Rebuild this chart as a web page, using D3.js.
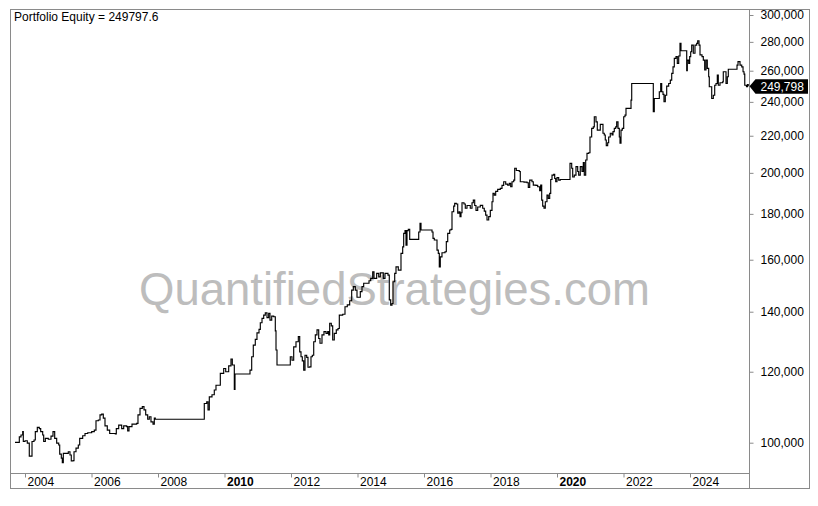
<!DOCTYPE html>
<html><head><meta charset="utf-8">
<script src="https://cdn.jsdelivr.net/npm/d3@7"></script>
<style>
body{margin:0;background:#fff}
svg{display:block}
text{font-family:Arial,"Liberation Sans",sans-serif}
</style>
</head><body><svg id="c" width="818" height="506"></svg>
<script>
const title = "Portfolio Equity = 249797.6";
const lastValue = 249797.6;
const watermark = "QuantifiedStrategies.com";
const xTickYears = [2004,2006,2008,2010,2012,2014,2016,2018,2020,2022,2024];
const boldYears = [2010,2020];
const yTickValues = [100000,120000,140000,160000,180000,200000,220000,240000,260000,280000,300000];

// decimal years
const dates = [
2003.699,2003.829,2003.880,2003.931,2003.949,2004.000,2004.069,2004.129,2004.189,2004.211,
2004.271,2004.310,2004.370,2004.430,2004.472,2004.532,2004.562,2004.611,2004.701,2004.782,
2004.842,2004.893,2004.953,2005.014,2005.044,2005.092,2005.122,2005.152,2005.233,2005.302,
2005.353,2005.392,2005.444,2005.474,2005.534,2005.603,2005.645,2005.735,2005.805,2005.886,
2006.006,2006.084,2006.135,2006.205,2006.256,2006.307,2006.355,2006.406,2006.475,2006.547,
2006.656,2006.716,2006.746,2006.818,2006.908,2006.968,2007.058,2007.088,2007.128,2007.218,
2007.359,2007.398,2007.459,2007.528,2007.579,2007.630,2007.690,2007.738,2007.789,2007.850,
2007.889,2007.919,2009.362,2009.392,2009.465,2009.504,2009.543,2009.624,2009.693,2009.744,
2009.825,2009.874,2009.925,2009.976,2010.036,2010.126,2010.195,2010.235,2010.277,2010.295,
2010.316,2010.716,2010.767,2010.818,2010.866,2010.926,2010.977,2011.038,2011.077,2011.128,
2011.179,2011.227,2011.278,2011.329,2011.368,2011.420,2011.480,2011.528,2011.549,2011.579,
2011.949,2011.979,2012.030,2012.081,2012.150,2012.220,2012.262,2012.301,2012.340,2012.382,
2012.421,2012.472,2012.511,2012.562,2012.601,2012.641,2012.683,2012.731,2012.782,2012.833,
2012.872,2012.932,2012.992,2013.053,2013.104,2013.134,2013.164,2013.212,2013.254,2013.302,
2013.362,2013.414,2013.453,2013.555,2013.624,2013.693,2013.765,2013.825,2013.874,2013.934,
2013.985,2014.036,2014.084,2014.135,2014.186,2014.276,2014.346,2014.397,2014.457,2014.496,
2014.577,2014.638,2014.686,2014.776,2014.827,2014.917,2014.956,2014.998,2015.038,2015.068,
2015.119,2015.158,2015.227,2015.308,2015.359,2015.389,2015.429,2015.459,2015.489,2015.528,
2015.570,2015.799,2015.841,2015.880,2015.910,2016.202,2016.241,2016.271,2016.310,2016.361,
2016.391,2016.430,2016.460,2016.490,2016.541,2016.632,2016.671,2016.713,2016.773,2016.812,
2016.842,2016.893,2016.923,2016.971,2017.014,2017.053,2017.083,2017.113,2017.143,2017.203,
2017.242,2017.293,2017.353,2017.392,2017.444,2017.483,2017.525,2017.564,2017.615,2017.693,
2017.765,2017.813,2017.855,2017.895,2017.946,2017.994,2018.045,2018.075,2018.114,2018.156,
2018.216,2018.295,2018.346,2018.397,2018.457,2018.517,2018.565,2018.607,2018.647,2018.698,
2018.728,2018.776,2018.866,2018.896,2019.007,2019.098,2019.137,2019.179,2019.248,2019.287,
2019.368,2019.419,2019.479,2019.509,2019.540,2019.570,2019.609,2019.648,2019.699,2019.738,
2019.780,2019.811,2019.850,2019.901,2019.931,2019.961,2020.000,2020.051,2020.099,2020.370,
2020.391,2020.442,2020.472,2020.520,2020.571,2020.622,2020.652,2020.700,2020.752,2020.791,
2020.821,2020.863,2020.902,2020.953,2020.992,2021.043,2021.091,2021.122,2021.173,2021.212,
2021.263,2021.302,2021.353,2021.383,2021.422,2021.452,2021.482,2021.524,2021.554,2021.602,
2021.654,2021.684,2021.723,2021.765,2021.795,2021.835,2021.874,2021.895,2021.925,2021.964,
2022.006,2022.045,2022.075,2022.195,2022.226,2022.247,2022.878,2022.896,2022.926,2023.038,
2023.077,2023.119,2023.149,2023.188,2023.218,2023.257,2023.299,2023.359,2023.408,2023.450,
2023.489,2023.528,2023.579,2023.618,2023.660,2023.699,2023.729,2023.871,2023.901,2023.919,
2023.961,2023.991,2024.021,2024.051,2024.099,2024.150,2024.201,2024.231,2024.271,2024.301,
2024.361,2024.400,2024.442,2024.481,2024.520,2024.562,2024.580,2024.623,2024.653,2024.701,
2024.743,2024.782,2024.821,2024.851,2024.902,2024.983,2025.001,2025.053,2025.083,2025.122,
2025.152,2025.383,2025.414,2025.444,2025.504,2025.556,2025.595,2025.625,2025.647,2025.698,
2025.728,2025.752];

// portfolio equity, thousands of dollars
const equityK = [
100.1,101.5,102.0,102.9,100.3,100.5,99.9,96.6,96.6,100.3,
100.7,102.9,104.0,103.7,102.9,102.0,100.3,101.1,100.9,101.7,
102.9,101.1,99.9,99.4,97.1,96.1,95.0,97.3,97.3,97.7,
96.9,95.4,95.5,97.7,98.6,99.4,101.1,101.8,102.4,102.6,
102.9,103.3,105.8,106.0,107.4,107.6,106.5,104.4,103.3,102.4,
102.4,102.3,103.7,104.6,103.7,104.4,104.2,103.1,104.2,104.9,
105.1,107.4,109.2,109.7,108.8,107.4,106.2,106.9,105.5,104.9,
106.5,106.2,106.2,110.6,111.1,108.8,112.5,113.1,114.5,115.9,
115.9,119.5,119.5,121.0,120.0,121.8,124.0,122.1,122.1,114.7,
119.3,119.3,120.5,124.7,128.5,130.4,132.6,133.8,136.1,137.6,
138.8,139.6,137.9,139.4,137.0,138.4,138.2,133.3,126.9,122.1,
122.1,124.7,123.6,127.9,129.6,131.3,126.3,124.7,123.4,120.5,
125.2,124.5,121.4,121.5,124.7,125.2,129.6,131.9,133.6,130.7,
129.1,131.9,133.0,132.4,133.0,131.9,135.9,135.0,130.2,132.4,
133.6,134.1,138.8,139.1,141.8,142.5,144.0,148.0,149.3,148.0,
145.3,145.3,147.4,149.3,150.6,150.6,151.6,152.5,155.1,152.5,
154.5,153.1,154.7,152.5,154.5,153.8,144.3,142.4,143.0,151.2,
154.5,157.1,155.8,162.6,165.4,171.2,172.4,166.1,172.4,173.0,
168.6,168.6,171.8,175.7,172.7,172.7,171.8,169.0,168.3,168.3,
164.0,162.6,157.1,161.2,162.9,163.3,167.6,171.2,172.7,173.0,
181.0,183.6,184.9,184.6,180.3,181.0,178.7,180.5,185.2,184.6,
182.6,183.9,183.9,182.6,185.2,186.5,183.9,181.6,183.2,184.0,
182.6,181.3,179.4,177.2,178.7,181.6,185.7,189.7,188.9,190.7,
191.7,192.2,193.7,195.5,194.3,193.8,194.7,193.0,195.5,196.3,
202.4,201.2,200.7,195.5,195.3,195.0,192.7,196.3,195.5,193.8,
193.7,193.0,191.0,193.8,186.5,183.6,182.6,185.7,188.9,187.3,
189.7,196.6,198.8,199.3,197.1,195.5,197.6,196.3,196.6,196.6,
204.9,202.4,197.9,198.8,203.2,200.7,198.8,203.2,200.7,205.3,
198.8,206.7,210.3,210.6,219.3,224.2,225.1,231.0,228.0,223.2,
223.2,226.5,226.5,221.4,220.4,217.6,214.5,216.1,219.3,221.4,
220.4,222.3,224.2,225.1,228.0,224.2,219.3,215.8,223.2,224.2,
231.0,232.0,236.0,236.0,241.1,251.6,251.6,234.0,242.1,242.1,
246.3,251.6,246.3,244.7,240.1,244.1,249.9,251.6,253.8,258.2,
262.6,268.4,269.6,264.9,270.0,278.9,273.7,273.7,260.0,267.2,
264.9,269.6,273.0,277.7,271.9,277.7,278.9,280.8,277.7,270.8,
269.6,267.2,260.5,267.2,261.6,256.0,249.5,249.5,242.1,244.1,
250.5,251.6,257.1,250.5,252.1,252.7,259.3,259.3,251.6,256.0,
261.0,261.0,263.8,266.1,263.8,262.6,259.3,257.7,250.5,249.5,
250.9,249.8];

const series = dates.map((d,i)=>({t:d, v:equityK[i]*1000}));

const svg = d3.select("#c");
const L = 10.5, R = 749.5, T = 9.5, B = 473.5, OUTR = 809.5, OUTB = 488.5;
const grey = "#8a8a8a";

const x = d3.scaleLinear().domain([2004, 2024]).range([25, 690]);
const y = d3.scaleLog().domain([100000, 300000]).range([442.7, 15]);

svg.append("defs").append("clipPath").attr("id","pc")
  .append("rect").attr("x",L).attr("y",T).attr("width",R-L).attr("height",B-T);

// watermark
svg.append("text").attr("x",394.5).attr("y",305).attr("text-anchor","middle")
  .attr("font-size",45.5).attr("fill","#bdbdbd").text(watermark);

// equity line
const line = d3.line().x(d=>x(d.t)).y(d=>y(d.v)).curve(d3.curveStepAfter);
svg.append("path").datum(series).attr("clip-path","url(#pc)")
  .attr("d",line).attr("fill","none").attr("stroke","#000").attr("stroke-width",1.15);

// frame
svg.append("rect").attr("x",L).attr("y",T).attr("width",OUTR-L).attr("height",OUTB-T)
  .attr("fill","none").attr("stroke",grey);
svg.append("line").attr("x1",R).attr("x2",R).attr("y1",T).attr("y2",OUTB).attr("stroke",grey);
svg.append("line").attr("x1",L).attr("x2",R).attr("y1",B).attr("y2",B).attr("stroke",grey);

// y axis
const ya = svg.append("g").attr("transform",`translate(${R},0)`)
  .call(d3.axisRight(y).tickValues(yTickValues).tickSize(4).tickPadding(7).tickFormat(d3.format(",")));
ya.select(".domain").remove();
ya.selectAll("line").attr("stroke",grey);
ya.selectAll("text").attr("font-size",12).attr("font-family","Arial, 'Liberation Sans', sans-serif").attr("fill","#000");

// x axis
const xa = svg.append("g").attr("transform",`translate(0,${B})`)
  .call(d3.axisBottom(x).tickValues(xTickYears).tickSize(4).tickFormat(d=>String(d)));
xa.select(".domain").remove();
xa.selectAll("line").attr("stroke",grey);
xa.selectAll("text").attr("text-anchor","start").attr("x",2).attr("y",12).attr("dy",0)
  .attr("font-size",12).attr("font-family","Arial, 'Liberation Sans', sans-serif").attr("fill","#000")
  .attr("font-weight",d=>boldYears.includes(d)?"bold":"normal");

// title
svg.append("text").attr("x",14).attr("y",21).attr("font-size",12).attr("fill","#000").text(title);

// last value marker
const yl = y(lastValue);
svg.append("path").attr("d",`M${R},${yl} L${R+6},${yl-7} H808 V${yl+7.5} H${R+6} Z`).attr("fill","#000");
svg.append("text").attr("x",R+11).attr("y",yl+4.5).attr("font-size",12).attr("fill","#fff")
  .text(d3.format(",")(Math.round(lastValue)));
</script></body></html>
